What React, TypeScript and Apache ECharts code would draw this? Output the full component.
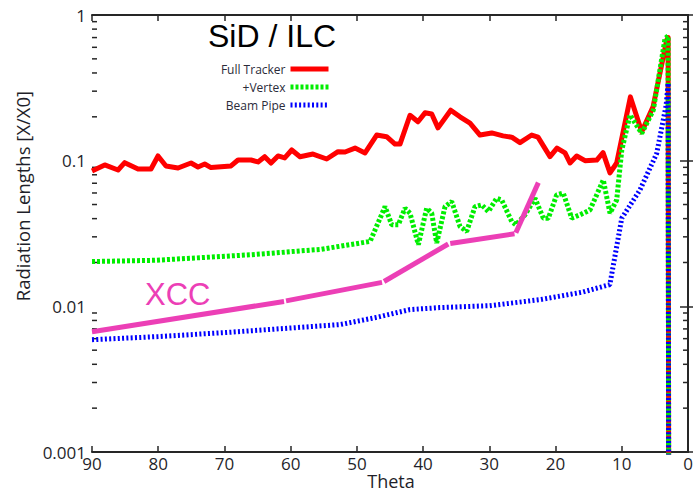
import React, { useEffect, useRef } from "react";
import * as echarts from "echarts";

// ---- data (theta in degrees, radiation length X/X0) ----
const fullTracker: [number, number][] = [
  [90, 0.085], [88.08, 0.0935], [86.07, 0.0863], [85.06, 0.0969], [83.05, 0.0877],
  [81.09, 0.0877], [80.03, 0.1077], [78.83, 0.092], [77.01, 0.0891], [75.05, 0.0964],
  [73.99, 0.0905], [72.98, 0.0948], [72.03, 0.0896], [69.01, 0.092], [67.95, 0.101],
  [65.99, 0.101], [64.93, 0.098], [63.92, 0.1065], [62.97, 0.0964], [61.91, 0.1077],
  [60.9, 0.1044], [59.84, 0.1184], [58.59, 0.1065], [56.63, 0.111], [54.56, 0.1027],
  [52.85, 0.1153], [51.79, 0.1147], [50.28, 0.122], [48.77, 0.113], [47.01, 0.15],
  [45.51, 0.146], [44.24, 0.13], [43.49, 0.13], [41.98, 0.205], [40.77, 0.185],
  [39.71, 0.213], [38.7, 0.209], [37.75, 0.168], [35.83, 0.222], [34.43, 0.2],
  [32.92, 0.181], [31.41, 0.15], [29.64, 0.155], [27.93, 0.148], [26.62, 0.145],
  [25.37, 0.133], [23.6, 0.15], [22.65, 0.145], [20.84, 0.1065], [19.78, 0.122],
  [18.57, 0.113], [17.82, 0.0964], [16.81, 0.1077], [15.55, 0.1], [13.78, 0.101],
  [12.83, 0.1135], [11.78, 0.0824], [10.77, 0.0964], [8.7, 0.274], [6.99, 0.158],
  [5.28, 0.234], [3.22, 0.671], [3.0, 0.7], [2.9, 0.0001],
];

const vertex: [number, number][] = [
  [90, 0.0203], [80.5, 0.0207], [66, 0.0226], [55.5, 0.0246], [48, 0.0279],
  [45.75, 0.0484], [44.74, 0.0363], [43.74, 0.0363], [42.73, 0.0472], [41.98, 0.0436],
  [40.72, 0.0265], [39.46, 0.0472], [38.7, 0.0436], [37.95, 0.0272], [36.69, 0.0484],
  [35.68, 0.0524], [34.43, 0.0353], [33.42, 0.0327], [32.16, 0.0484], [31.15, 0.0497],
  [30.15, 0.0447], [28.89, 0.0552], [28.13, 0.0537], [26.62, 0.0382], [26.0, 0.0363],
  [24.61, 0.0425], [23.1, 0.0552], [21.85, 0.0403], [21.09, 0.0403], [19.83, 0.0582],
  [18.83, 0.0598], [17.56, 0.0403], [16.31, 0.0425], [14.8, 0.0459], [12.79, 0.0738],
  [11.78, 0.0436], [10.77, 0.0537], [10.0, 0.118], [8.76, 0.206], [6.99, 0.154],
  [5.24, 0.222], [3.47, 0.69], [3.0, 0.72], [2.9, 0.0001],
];

const beamPipe: [number, number][] = [
  [90, 0.0059], [80, 0.0062], [70, 0.0066], [60, 0.0071], [52.5, 0.0075],
  [47, 0.0084], [42, 0.0095], [37.5, 0.0098], [30, 0.0101], [22.4, 0.0111],
  [16, 0.0125], [11.8, 0.0141], [10.0, 0.0403], [7.25, 0.063], [4.73, 0.112],
  [3.3, 0.24], [3.0, 0.34], [2.9, 0.0001],
];

const xccSegments: [number, number][][] = [
  [[90, 0.0067], [61.0, 0.0108]],
  [[60.7, 0.0109], [46.2, 0.0146]],
  [[45.9, 0.0148], [36.2, 0.0268]],
  [[35.9, 0.027], [26.2, 0.0315]],
  [[26.0, 0.032], [22.6, 0.0707]],
];

const yTickLabels = ["0.001", "0.01", "0.1", "1"];
const yMinorTicks = [
  0.002, 0.003, 0.004, 0.005, 0.006, 0.007, 0.008, 0.009,
  0.02, 0.03, 0.04, 0.05, 0.06, 0.07, 0.08, 0.09,
  0.2, 0.3, 0.4, 0.5, 0.6, 0.7, 0.8, 0.9,
];

const seriesNames = ["Full Tracker", "+Vertex", "Beam Pipe"];
const MAGENTA = "#ec3fb6";
const AXIS = "#262626";
const LABEL_FONT = "Open Sans";

export default function App() {
  const ref = useRef<HTMLDivElement>(null);

  useEffect(() => {
    if (!ref.current) return;
    const chart = echarts.init(ref.current, undefined, { renderer: "svg" });

    const axisCommon = {
      axisLine: { show: true, lineStyle: { color: AXIS, width: 2 } },
      splitLine: { show: false },
    };

    const option: any = {
      animation: false,
      backgroundColor: "#ffffff",
      grid: {
        left: 92,
        right: 5,
        top: 15,
        bottom: 41,
        containLabel: false,
        outerBoundsMode: "none",
      },
      legend: {
        data: seriesNames,
        orient: "vertical",
        align: "right",
        right: 362,
        top: 63,
        padding: 0,
        itemWidth: 38,
        itemHeight: 14,
        itemGap: 6,
        selectedMode: false,
        lineStyle: { width: 5 },
        itemStyle: { color: "rgba(0,0,0,0)", borderWidth: 0, opacity: 0 },
        textStyle: { fontFamily: LABEL_FONT, fontSize: 12, color: "#2b2b3a" },
      },
      xAxis: [
        {
          type: "value",
          min: 0,
          max: 90,
          interval: 10,
          inverse: true,
          position: "bottom",
          ...axisCommon,
          axisTick: { show: true, inside: true, length: 6, lineStyle: { color: AXIS, width: 1.5 } },
          axisLabel: {
            fontFamily: LABEL_FONT,
            fontSize: 17,
            lineHeight: 17,
            color: "#1f1f2a",
            margin: 3,
          },
        },
        {
          type: "value",
          min: 0,
          max: 90,
          interval: 10,
          inverse: true,
          position: "top",
          ...axisCommon,
          axisTick: { show: true, inside: true, length: 6, lineStyle: { color: AXIS, width: 1.5 } },
          axisLabel: { show: false },
        },
      ],
      yAxis: [
        {
          type: "log",
          logBase: 10,
          min: 0.001,
          max: 1,
          position: "left",
          ...axisCommon,
          axisTick: { show: true, inside: true, length: 9, lineStyle: { color: AXIS, width: 1.5 } },
          axisLabel: {
            fontFamily: LABEL_FONT,
            fontSize: 17,
            color: "#1f1f2a",
            margin: 6,
            formatter: (v: number) => yTickLabels[Math.round(Math.log10(v)) + 3],
          },
        },
        {
          type: "log",
          logBase: 10,
          min: 0.001,
          max: 1,
          position: "right",
          ...axisCommon,
          axisTick: { show: true, inside: true, length: 8, lineStyle: { color: AXIS, width: 1.5 } },
          axisLabel: { show: false },
        },
      ],
      graphic: [
        {
          type: "text",
          x: 22,
          y: 196,
          rotation: Math.PI / 2,
          style: {
            text: "Radiation Lengths [X/X0]",
            fontFamily: LABEL_FONT,
            fontSize: 18.5,
            fill: "#1f1f2a",
            align: "center",
            verticalAlign: "middle",
          },
        },
        {
          type: "text",
          x: 391,
          y: 481,
          style: {
            text: "Theta",
            fontFamily: LABEL_FONT,
            fontSize: 18,
            lineHeight: 14,
            fill: "#1f1f2a",
            align: "center",
            verticalAlign: "middle",
          },
        },
        {
          type: "text",
          x: 208,
          y: 36,
          style: {
            text: "SiD / ILC",
            fontFamily: "Liberation Sans",
            fontSize: 32,
            fill: "#000000",
            align: "left",
            verticalAlign: "middle",
          },
        },
        {
          type: "text",
          x: 145,
          y: 294,
          style: {
            text: "XCC",
            fontFamily: "Liberation Sans",
            fontSize: 31,
            fill: MAGENTA,
            align: "left",
            verticalAlign: "middle",
          },
        },
      ],
      series: [
        {
          type: "custom",
          name: "minorTicks",
          silent: true,
          clip: false,
          data: yMinorTicks.map((v) => [45, v]),
          encode: { x: 0, y: 1 },
          renderItem: (params: any, api: any) => {
            const cs = params.coordSys;
            const y = api.coord([45, api.value(1)])[1];
            return {
              type: "group",
              children: [
                { type: "line", shape: { x1: cs.x, y1: y, x2: cs.x + 5, y2: y }, style: { stroke: AXIS, lineWidth: 1.5 } },
                { type: "line", shape: { x1: cs.x + cs.width - 5, y1: y, x2: cs.x + cs.width, y2: y }, style: { stroke: AXIS, lineWidth: 1.5 } },
              ],
            };
          },
        },
        {
          type: "line",
          name: seriesNames[0],
          data: fullTracker,
          symbol: "none",
          clip: true,
          itemStyle: { color: "#ff0000" },
          lineStyle: { color: "#ff0000", width: 5, join: "round" },
        },
        {
          type: "line",
          name: seriesNames[1],
          data: vertex,
          symbol: "none",
          clip: true,
          itemStyle: { color: "#00ee00" },
          lineStyle: { color: "#00ee00", width: 5, type: [3, 2] },
        },
        {
          type: "line",
          name: seriesNames[2],
          data: beamPipe,
          symbol: "none",
          clip: true,
          itemStyle: { color: "#0000ff" },
          lineStyle: { color: "#0000ff", width: 5, type: [2, 2.3] },
        },
        ...xccSegments.map((seg, i) => ({
          type: "line",
          name: "XCC" + i,
          data: seg,
          symbol: "none",
          clip: false,
          itemStyle: { color: MAGENTA },
          lineStyle: { color: MAGENTA, width: 5 },
        })),
      ],
    };

    chart.setOption(option);
    return () => chart.dispose();
  }, []);

  return (
    <div
      ref={ref}
      style={{ position: "absolute", left: 0, top: 0, width: 693, height: 493 }}
    />
  );
}
